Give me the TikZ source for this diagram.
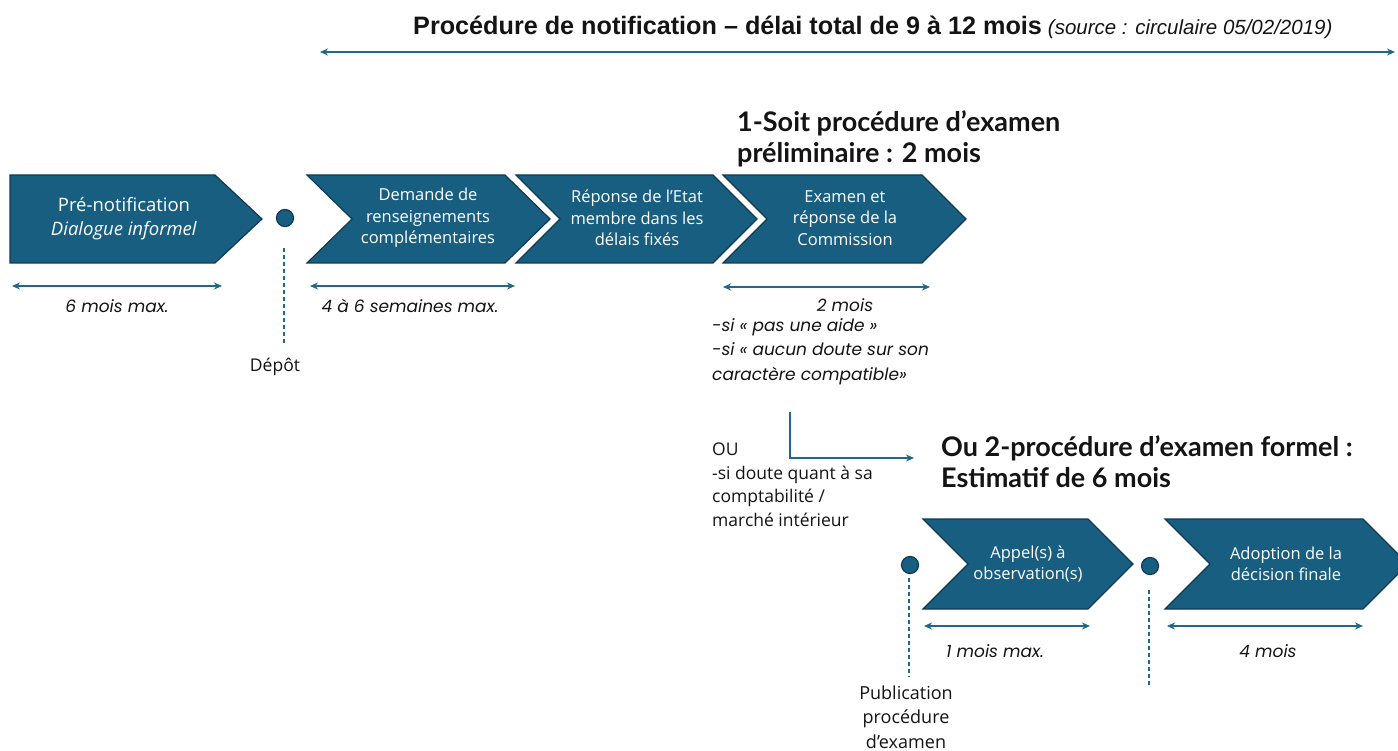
\documentclass[tikz,border=0pt]{standalone}
\usepackage{fontspec}
\setmainfont{Open Sans}
\newfontfamily\geo{Poppins}
\newfontfamily\titlefont{Liberation Sans}
\newfontfamily\headfont{Lato}
\usetikzlibrary{arrows.meta}
\definecolor{cfill}{RGB}{24,94,128}
\definecolor{cborder}{RGB}{16,58,82}
\definecolor{carrow}{RGB}{30,104,138}
\definecolor{ctext}{RGB}{20,20,20}
\tikzset{
  chev/.style={fill=cfill, draw=cborder, line width=1.2pt, line join=miter},
  chevtext/.style={text=white, align=center, font=\fontsize{16.5}{21.5}\selectfont},
  meas/.style={draw=carrow, line width=1.5pt, {Stealth[length=8pt,width=7pt]}-{Stealth[length=8pt,width=7pt]}},
  dotnode/.style={circle, fill=cfill, draw=cborder, line width=1.2pt, minimum size=17pt, inner sep=0pt},
  dashline/.style={draw=carrow, line width=1.5pt, dash pattern=on 4pt off 3pt},
  mlabel/.style={text=ctext, font=\geo\itshape\fontsize{17}{24.5}\selectfont, inner sep=0pt},
  plain/.style={text=ctext, font=\fontsize{17.5}{23.5}\selectfont, inner sep=0pt},
  heading/.style={text=ctext, font=\headfont\bfseries\fontsize{27}{31}\selectfont, align=left, inner sep=0pt, anchor=north west},
}
\begin{document}
\begin{tikzpicture}[x=1pt,y=-1pt]
\clip (0,0) rectangle (1398,751);
\fill[white] (0,0) rectangle (1398,751);

% title
\node[anchor=base west, inner sep=0pt, text=ctext] (title) at (413,35)
  {{\titlefont\bfseries\fontsize{25.2}{28}\selectfont Procédure de notification – délai total de 9 à 12 mois}\hspace{6pt}{\titlefont\itshape\fontsize{20.5}{20}\selectfont (source : circulaire 05/02/2019)}};
\coordinate (tA) at (320,52);
\coordinate (tB) at (1395,52);
\draw[meas] (tA) -- (tB);

% top row chevrons
\path[chev] (10,175) -- (215,175) -- (262,219) -- (215,263) -- (10,263) -- cycle;
\node[chevtext, font=\fontsize{18.5}{24}\selectfont] (c1) at (124,219) {Pré-notification\\\textit{Dialogue informel}};

\node[dotnode] (d1) at (285,218) {};

\path[chev] (307,175) -- (505,175) -- (550,219) -- (505,263) -- (307,263) -- (352,219) -- cycle;
\node[chevtext] (c2) at (428,218) {Demande de\\renseignements\\complémentaires};

\path[chev] (516,175) -- (713,175) -- (757,219) -- (713,263) -- (516,263) -- (560,219) -- cycle;
\node[chevtext] (c3) at (637,218) {Réponse de l’Etat\\membre dans les\\délais fixés};

\path[chev] (723,175) -- (922,175) -- (966,219) -- (922,263) -- (723,263) -- (767,219) -- cycle;
\node[chevtext] (c4) at (845,218) {Examen et\\réponse de la\\Commission};

% heading 1
\node[heading] (h1) at (737,110) {1-Soit procédure d’examen\\préliminaire : 2 mois};

% measures top
\coordinate (m1a) at (12,286);
\coordinate (m1b) at (222,286);
\draw[meas] (m1a) -- (m1b);
\node[mlabel] (l1) at (117,306) {6 mois max.};

\coordinate (m2a) at (310,286);
\coordinate (m2b) at (515,286);
\draw[meas] (m2a) -- (m2b);
\node[mlabel] (l2) at (410,306) {4 à 6 semaines max.};

\coordinate (m3a) at (723,287);
\coordinate (m3b) at (930,287);
\draw[meas] (m3a) -- (m3b);
\node[mlabel] (l3) at (845,305) {2 mois};
\node[mlabel, align=left, anchor=north west] (l3b) at (712,318) {-si « pas une aide »\\-si « aucun doute sur son\\caractère compatible»};

% depot
\coordinate (dp1) at (284,248);
\coordinate (dp2) at (284,345);
\draw[dashline] (dp1) -- (dp2);
\node[plain] (depot) at (275,367) {Dépôt};

% L arrow
\coordinate (la) at (790,412);
\coordinate (lb) at (914,458);
\draw[draw=carrow, line width=1.5pt, -{Stealth[length=8pt,width=7pt]}] (la) |- (lb);

\node[plain, align=left, anchor=north west] (ou) at (712,443) {OU\\-si doute quant à sa\\comptabilité /\\marché intérieur};

% heading 2
\node[heading] (h2) at (941,435) {Ou 2-procédure d’examen formel :\\Estimatif de 6 mois};

% bottom row
\node[dotnode] (d2) at (910,565) {};
\path[chev] (923,519) -- (1088,519) -- (1133,564) -- (1088,609) -- (923,609) -- (968,564) -- cycle;
\node[chevtext] (c5) at (1028,564) {Appel(s) à\\observation(s)};

\node[dotnode] (d3) at (1150,566) {};
\path[chev] (1165,519) -- (1363,519) -- (1408,564) -- (1363,609) -- (1165,609) -- (1210,564) -- cycle;
\node[chevtext] (c6) at (1286,564) {Adoption de la\\décision finale};

\coordinate (dq1) at (909,578);
\coordinate (dq2) at (909,677);
\draw[dashline] (dq1) -- (dq2);
\coordinate (dr1) at (1149,590);
\coordinate (dr2) at (1149,687);
\draw[dashline] (dr1) -- (dr2);

\node[plain, align=center, font=\fontsize{18}{24.5}\selectfont] (pub) at (906,717) {Publication\\procédure\\d’examen};

\coordinate (m4a) at (924,626);
\coordinate (m4b) at (1090,626);
\draw[meas] (m4a) -- (m4b);
\node[mlabel] (l4) at (995,651) {1 mois max.};

\coordinate (m5a) at (1167,626);
\coordinate (m5b) at (1363,626);
\draw[meas] (m5a) -- (m5b);
\node[mlabel] (l5) at (1268,651) {4 mois};
\end{tikzpicture}
\end{document}
